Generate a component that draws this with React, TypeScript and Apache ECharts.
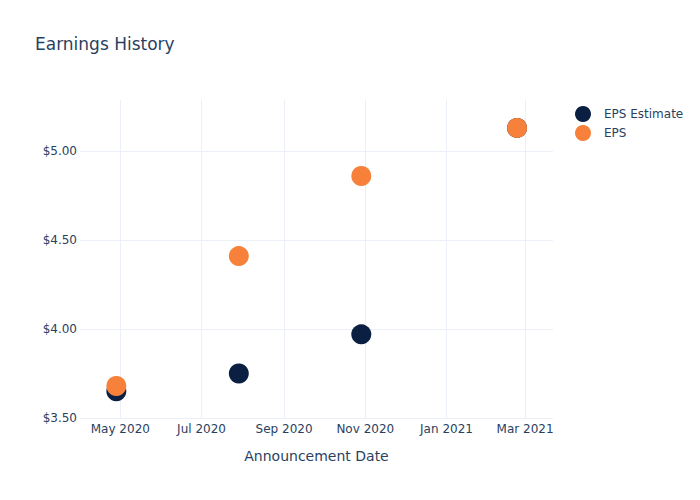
import React, { useEffect, useRef } from "react";
import * as echarts from "echarts";

const announcementDates = ["2020-04-28", "2020-07-29", "2020-10-29", "2021-02-23"];
const epsEstimate = [3.65, 3.75, 3.97, 5.13];
const epsActual = [3.68, 4.41, 4.86, 5.13];
const xTickDates = ["2020-05-01", "2020-07-01", "2020-09-01", "2020-11-01", "2021-01-01", "2021-03-01"];
const yTicks = [3.5, 4.0, 4.5, 5.0];
const monthNames = ["Jan", "Feb", "Mar", "Apr", "May", "Jun", "Jul", "Aug", "Sep", "Oct", "Nov", "Dec"];

const toTs = (s: string) => {
  const [y, m, d] = s.split("-").map(Number);
  return Date.UTC(y, m - 1, d);
};

const FONT = "DejaVu Sans";
const TEXT = "#2a3f5f";
const GRID = "#ebf0f8";

export default function App() {
  const ref = useRef<HTMLDivElement>(null);
  useEffect(() => {
    if (!ref.current) return;
    const chart = echarts.init(ref.current, undefined, { renderer: "svg" });
    const xTicks = xTickDates.map(toTs);
    chart.setOption({
      animation: false,
      backgroundColor: "#fff",
      textStyle: { fontFamily: FONT },
      title: {
        text: "Earnings History",
        left: 35,
        top: 35,
        padding: 0,
        textStyle: { fontFamily: FONT, fontSize: 17, fontWeight: "normal", color: TEXT },
      },
      legend: {
        orient: "vertical",
        left: 575,
        top: 106,
        padding: 0,
        icon: "circle",
        itemWidth: 32,
        itemHeight: 16,
        itemGap: 3,
        textStyle: { fontFamily: FONT, fontSize: 12, color: TEXT },
        data: ["EPS Estimate", "EPS"],
      },
      grid: { left: 80, right: 147, top: 100, bottom: 82, containLabel: false },
      xAxis: {
        type: "value",
        min: Date.UTC(2020, 2, 31, 17),
        max: Date.UTC(2021, 2, 22),
        name: "Announcement Date",
        nameLocation: "middle",
        nameGap: 31,
        nameTextStyle: { fontFamily: FONT, fontSize: 14, color: TEXT },
        axisLine: { show: false },
        axisTick: { show: false, customValues: xTicks },
        axisLabel: {
          customValues: xTicks,
          fontFamily: FONT,
          fontSize: 12,
          color: TEXT,
          margin: 5,
          formatter: (v: number) => {
            const d = new Date(v);
            return monthNames[d.getUTCMonth()] + " " + d.getUTCFullYear();
          },
        },
        splitLine: { show: true, lineStyle: { color: GRID, width: 1 } },
      },
      yAxis: {
        type: "value",
        min: 3.5,
        max: 5.287,
        axisLine: { show: false },
        axisTick: { show: false, customValues: yTicks },
        axisLabel: {
          customValues: yTicks,
          fontFamily: FONT,
          fontSize: 12,
          color: TEXT,
          margin: 3,
          formatter: (v: number) => "$" + v.toFixed(2),
        },
        splitLine: { show: true, lineStyle: { color: GRID, width: 1 } },
      },
      series: [
        {
          name: "EPS Estimate",
          type: "scatter",
          symbol: "circle",
          symbolSize: 20,
          itemStyle: { color: "#0b1f42", opacity: 1 },
          data: announcementDates.map((d, i) => [toTs(d), epsEstimate[i]]),
        },
        {
          name: "EPS",
          type: "scatter",
          symbol: "circle",
          symbolSize: 20,
          itemStyle: { color: "#f7813a", opacity: 1 },
          data: announcementDates.map((d, i) => [toTs(d), epsActual[i]]),
        },
      ],
    });
    return () => chart.dispose();
  }, []);
  return (
    <div
      ref={ref}
      style={{ position: "fixed", left: 0, top: 0, width: 700, height: 500 }}
    />
  );
}
